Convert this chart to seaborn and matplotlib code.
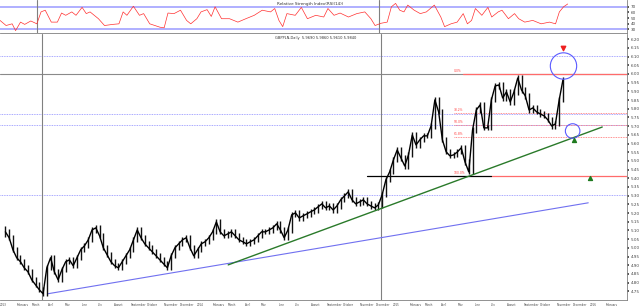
import numpy as np
import pandas as pd
import matplotlib
matplotlib.use("Agg")
import matplotlib.pyplot as plt
import matplotlib.dates as mdates
import seaborn as sns

# ---------------- data ----------------
start_date = "2013-01-11"          # first weekly sample
close = [5.092, 5.058, 4.989, 4.943, 4.920, 4.885, 4.862, 4.816, 4.787, 4.759,
         4.736, 4.885, 4.943, 4.862, 4.816, 4.874, 4.920, 4.931, 4.897, 4.943,
         4.989, 5.012, 5.046, 5.103, 5.115, 5.069, 5.000, 4.960, 4.920, 4.897,
         4.885, 4.920, 4.954, 4.989, 5.046, 5.103, 5.058, 5.023, 5.000, 4.977,
         4.954, 4.931, 4.908, 4.885, 4.954, 5.000, 5.023, 5.046, 5.058, 5.000,
         4.954, 4.989, 5.023, 5.035, 5.058, 5.092, 5.149, 5.092, 5.069, 5.080,
         5.092, 5.069, 5.046, 5.035, 5.023, 5.035, 5.046, 5.069, 5.092, 5.092,
         5.103, 5.115, 5.138, 5.103, 5.058, 5.103, 5.190, 5.201, 5.172, 5.184,
         5.195, 5.207, 5.218, 5.236, 5.253, 5.230, 5.241, 5.218, 5.241, 5.276,
         5.299, 5.322, 5.276, 5.253, 5.264, 5.276, 5.253, 5.241, 5.230, 5.247,
         5.305, 5.391, 5.437, 5.506, 5.563, 5.517, 5.471, 5.535, 5.649, 5.592,
         5.621, 5.644, 5.644, 5.701, 5.851, 5.782, 5.621, 5.552, 5.529, 5.535,
         5.552, 5.575, 5.494, 5.437, 5.678, 5.793, 5.822, 5.690, 5.690, 5.851,
         5.931, 5.937, 5.862, 5.897, 5.839, 5.897, 5.977, 5.908, 5.874, 5.793,
         5.805, 5.782, 5.770, 5.759, 5.736, 5.701, 5.713, 5.851, 5.966]

high = [5.125, 5.107, 5.073, 5.004, 4.958, 4.935, 4.900, 4.877, 4.831, 4.802,
        4.774, 4.900, 4.958, 4.958, 4.877, 4.889, 4.935, 4.946, 4.946, 4.958,
        5.004, 5.027, 5.061, 5.118, 5.130, 5.130, 5.084, 5.015, 4.975, 4.935,
        4.912, 4.935, 4.969, 5.004, 5.061, 5.118, 5.118, 5.073, 5.038, 5.015,
        4.992, 4.969, 4.946, 4.923, 4.969, 5.015, 5.038, 5.061, 5.073, 5.073,
        5.015, 5.004, 5.038, 5.050, 5.073, 5.107, 5.164, 5.164, 5.107, 5.095,
        5.107, 5.107, 5.084, 5.061, 5.050, 5.050, 5.061, 5.084, 5.107, 5.107,
        5.118, 5.130, 5.153, 5.153, 5.118, 5.118, 5.205, 5.216, 5.216, 5.199,
        5.210, 5.222, 5.233, 5.251, 5.268, 5.268, 5.256, 5.256, 5.256, 5.291,
        5.314, 5.337, 5.337, 5.291, 5.279, 5.291, 5.291, 5.268, 5.256, 5.262,
        5.320, 5.406, 5.452, 5.521, 5.578, 5.578, 5.532, 5.550, 5.664, 5.664,
        5.636, 5.659, 5.659, 5.716, 5.866, 5.866, 5.797, 5.636, 5.567, 5.550,
        5.567, 5.590, 5.590, 5.509, 5.693, 5.808, 5.837, 5.837, 5.705, 5.866,
        5.946, 5.952, 5.952, 5.912, 5.912, 5.912, 5.992, 5.992, 5.923, 5.889,
        5.820, 5.820, 5.797, 5.785, 5.774, 5.751, 5.728, 5.866, 5.981]

low = [5.060, 5.043, 4.974, 4.928, 4.905, 4.870, 4.847, 4.801, 4.772, 4.744,
       4.721, 4.721, 4.870, 4.847, 4.801, 4.801, 4.859, 4.905, 4.882, 4.882,
       4.928, 4.974, 4.997, 5.031, 5.088, 5.054, 4.985, 4.945, 4.905, 4.882,
       4.870, 4.870, 4.905, 4.939, 4.974, 5.031, 5.043, 5.008, 4.985, 4.962,
       4.939, 4.916, 4.893, 4.870, 4.870, 4.939, 4.985, 5.008, 5.031, 4.985,
       4.939, 4.939, 4.974, 5.008, 5.020, 5.043, 5.077, 5.077, 5.054, 5.054,
       5.065, 5.054, 5.031, 5.020, 5.008, 5.008, 5.020, 5.031, 5.054, 5.077,
       5.077, 5.088, 5.100, 5.088, 5.043, 5.043, 5.088, 5.175, 5.157, 5.157,
       5.169, 5.180, 5.192, 5.203, 5.221, 5.215, 5.215, 5.203, 5.203, 5.226,
       5.261, 5.284, 5.261, 5.238, 5.238, 5.249, 5.238, 5.226, 5.215, 5.215,
       5.232, 5.290, 5.376, 5.422, 5.491, 5.502, 5.456, 5.456, 5.520, 5.577,
       5.577, 5.606, 5.629, 5.629, 5.686, 5.767, 5.606, 5.537, 5.514, 5.514,
       5.520, 5.537, 5.479, 5.422, 5.422, 5.663, 5.778, 5.675, 5.675, 5.675,
       5.836, 5.916, 5.847, 5.847, 5.824, 5.824, 5.882, 5.893, 5.859, 5.778,
       5.778, 5.767, 5.755, 5.744, 5.721, 5.686, 5.686, 5.698, 5.836]

rsi_week = [0, 1.6, 3.2, 4.1, 5.4, 6.5, 8.1, 9.7, 10.8, 11.9, 13.5, 15.1, 16.2, 17.3,
            18.9, 20, 21.6, 22.7, 23.7, 25.9, 27.5, 29.7, 31.3, 32.4, 33.4, 35.1,
            36.7, 37.8, 39.4, 42.1, 43.2, 44.2, 45.8, 47.5, 49.1, 50.2, 51.8, 52.9,
            54.5, 55.6, 56.6, 58.3, 60.4, 62.6, 64.7, 66.9, 69, 71.2, 72.3, 73.4,
            74.4, 75.5, 77.7, 79.3, 80.9, 83.1, 85.2, 86.3, 87.9, 89.5, 91.7, 93.9,
            96, 97.6, 98.7, 100.3, 101.9, 103, 104.1, 105.2, 106.3, 107.3, 109,
            110.6, 112.2, 114.3, 116, 117, 118.7, 120.3, 121.9, 123, 124.1, 125.1,
            126.8, 128.4, 129.4, 131.1, 132.1, 133.8, 135.4, 136.5, 138.1, 140.2,
            142.4, 144.6, 146.2, 147.2, 148.3, 149.4]
rsi_value = [46, 37, 40, 28, 43, 39, 45, 40, 61, 64, 43, 43, 59, 55,
             61, 55, 69, 58, 61, 49, 37, 39, 40, 61, 55, 71,
             55, 58, 40, 34, 33, 59, 58, 64, 46, 40, 49, 61,
             65, 53, 70, 49, 49, 43, 49, 55, 64, 61, 67, 46,
             35, 58, 55, 69, 49, 55, 52, 67, 55, 59, 52, 58,
             61, 49, 37, 41, 43, 70, 76, 64, 61, 73, 64,
             58, 61, 73, 52, 35, 40, 43, 58, 40, 46, 67,
             55, 69, 52, 61, 64, 49, 58, 49, 43, 46,
             40, 43, 40, 61, 70, 75]
rsi_levels = [70, 30]

month_names = ["2013", "February", "March", "April", "May", "June", "July", "August",
               "September", "October", "November", "December",
               "2014", "February", "March", "April", "May", "June", "July", "August",
               "September", "October", "November", "December",
               "2015", "February", "March", "April", "May", "June", "July", "August",
               "September", "October", "November", "December",
               "2016", "February"]

blue_levels = [6.103, 5.770, 5.707, 5.305]
gray_level = 6.00
fib_high = 6.00
fib_low = 5.414
fib_ratios = [0.0, 0.382, 0.5, 0.618, 1.0]
fib_labels = ["0.0%", "38.2%", "50.0%", "61.8%", "100.0%"]
fib_start = "2015-04-24"
fib_zero_start = "2015-05-12"
support_dates = ["2014-11-14", "2015-07-03"]
green_trend_dates = ["2014-03-01", "2016-01-25"]
green_trend_prices = [4.902, 5.695]
blue_trend_dates = ["2013-03-31", "2015-12-30"]
blue_trend_prices = [4.736, 5.259]
vline_dates = ["2013-03-20", "2014-12-10"]
circle_dates = ["2015-11-14", "2015-12-01"]
circle_prices = [6.046, 5.672]
circle_sizes = [360, 110]
red_arrow = ("2015-11-14", 6.149)
green_arrows_dates = ["2015-12-03", "2016-01-03"]
green_arrows_prices = [5.621, 5.402]
view_end = "2016-03-11"

# ---------------- figure ----------------
sns.set_theme(style="white")
plt.rcParams["font.family"] = ["DejaVu Sans"]

W, H = 640, 306
fig = plt.figure(figsize=(W / 100, H / 100), dpi=100)
fig.patch.set_facecolor("white")
ax_rsi = fig.add_axes([0, 1 - 33 / H, 627 / W, 33 / H])
ax = fig.add_axes([0, 1 - 300 / H, 627 / W, 266 / H])

t0 = pd.Timestamp(start_date)
dates = pd.date_range(t0, periods=len(close), freq="7D")
rsi_dates = [t0 + pd.Timedelta(days=7 * w) for w in rsi_week]
x_left, x_right = t0, pd.Timestamp(view_end)

# ---- RSI panel ----
for lv in rsi_levels:
    ax_rsi.axhline(lv, color="#9a9aff", lw=1.1, zorder=1)
sns.lineplot(x=rsi_dates, y=rsi_value, ax=ax_rsi, color="#ff3030", lw=0.5, zorder=3)
ax_rsi.set_ylim(23.8, 82)
ax_rsi.set_xlim(x_left, x_right)
ax_rsi.yaxis.tick_right()
ax_rsi.set_yticks([30, 40, 50, 60, 70])
ax_rsi.set_xticks([])
ax_rsi.tick_params(axis="y", labelsize=3, length=1.5, pad=1, colors="#444444", direction="out")
ax_rsi.text(0.494, 0.93, "Relative Strength Index(RSI(14))", transform=ax_rsi.transAxes,
            fontsize=3, ha="center", va="top", color="#333333")
ax_rsi.set_xlabel("")
ax_rsi.set_ylabel("")

# ---- main panel ----
for lv in blue_levels:
    ax.axhline(lv, color="#8c8cff", lw=0.6, ls=(0, (1, 1)), zorder=1)
ax.axhline(gray_level, color="#8a8a8a", lw=0.8, zorder=1)

fib_rng = fib_high - fib_low
fs = pd.Timestamp(fib_start)
for r, lab in zip(fib_ratios, fib_labels):
    lv = fib_high - r * fib_rng
    if r == 0.0:
        ax.plot([pd.Timestamp(fib_zero_start), x_right], [lv, lv], color="#ff6b6b", lw=0.9, zorder=2)
    elif r == 1.0:
        ax.plot([pd.Timestamp(support_dates[1]), x_right], [lv, lv], color="#ff6b6b", lw=0.9, zorder=2)
    else:
        ax.plot([fs, x_right], [lv, lv], color="#ff6b6b", lw=0.6, ls=(0, (1, 1)), zorder=2)
    ax.text(fs, lv + 0.004, lab, fontsize=2.2, color="#ff4040", ha="left", va="bottom", zorder=4)

ax.plot([pd.Timestamp(d) for d in support_dates], [fib_low, fib_low], color="black", lw=0.9, zorder=3)
ax.plot([pd.Timestamp(d) for d in blue_trend_dates], blue_trend_prices, color="#7070f0", lw=0.8, zorder=2)
ax.plot([pd.Timestamp(d) for d in green_trend_dates], green_trend_prices, color="#2a7a2a", lw=1.0, zorder=4)

# price bars (weekly range) + closing line
ax.vlines(dates, low, high, color="#111111", lw=1.0, zorder=3)
sns.lineplot(x=dates, y=close, ax=ax, color="black", lw=1.0, zorder=3)

ax.scatter([pd.Timestamp(d) for d in circle_dates], circle_prices, s=circle_sizes,
           facecolors="none", edgecolors="#5a5aff", linewidths=0.8, zorder=5)
ax.scatter([pd.Timestamp(red_arrow[0])], [red_arrow[1]], marker="v", s=10, color="#ee2020", zorder=5)
ax.scatter([pd.Timestamp(d) for d in green_arrows_dates], green_arrows_prices, marker="^", s=8,
           color="#1f7a1f", zorder=5)

ax.text(0.4386, 0.992, "GBPPLN,Daily  5.9690 5.9860 5.9610 5.9840", transform=ax.transAxes,
        fontsize=2.6, ha="left", va="top", color="#333333")

ax.set_ylim(4.70, 6.23)
ax.set_xlim(x_left, x_right)
ax.yaxis.tick_right()
ax.set_yticks(np.round(np.arange(4.75, 6.201, 0.05), 2))
ax.yaxis.set_major_formatter(matplotlib.ticker.FormatStrFormatter("%.2f"))
ticks = pd.date_range("2013-01-01", periods=len(month_names), freq="MS")
ax.set_xticks(ticks)
ax.set_xticklabels(month_names)
for lbl in ax.get_xticklabels():
    lbl.set_ha("left")
ax.tick_params(axis="y", labelsize=3, length=1.5, pad=1, colors="#444444", direction="out")
ax.tick_params(axis="x", labelsize=2.0, length=1.5, pad=1, colors="#444444", direction="out")
ax.set_xlabel("")
ax.set_ylabel("")

for vd in vline_dates:
    for a in (ax, ax_rsi):
        a.axvline(pd.Timestamp(vd), color="#808080", lw=0.8, zorder=1)

for a in (ax, ax_rsi):
    a.set_facecolor("white")
    for side in ("left", "top"):
        a.spines[side].set_visible(False)
    for side in ("right", "bottom"):
        a.spines[side].set_color("#808080")
        a.spines[side].set_linewidth(0.6)

fig.savefig("out.png", dpi=100)
